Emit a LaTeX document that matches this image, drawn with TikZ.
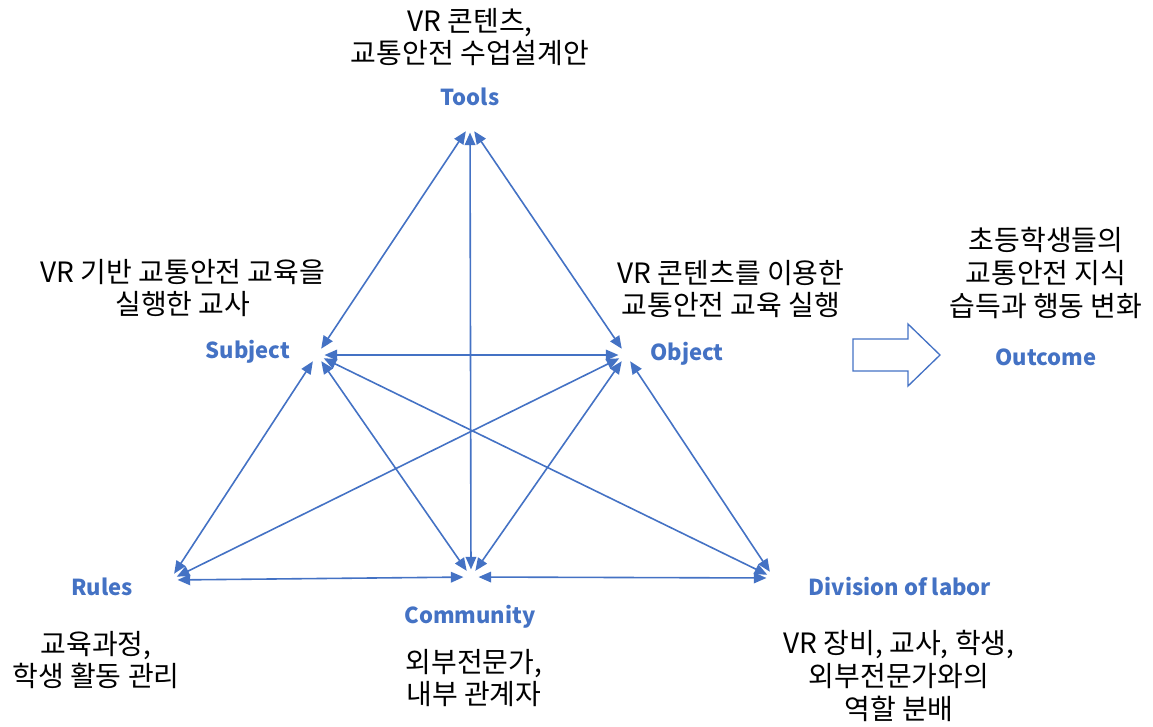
\documentclass[tikz,border=0pt]{standalone}
\usepackage{fontspec}
\setmainfont{Noto Sans CJK KR}
\usepackage{xcolor}
\usepackage{tikz}
\usetikzlibrary{arrows.meta, positioning}
\definecolor{actblue}{RGB}{68, 114, 196}

\begin{document}
\begin{tikzpicture}[x=0.75pt, y=-0.75pt, thick,
    vtx/.style={circle, inner sep=0pt, minimum size=10.5pt},
    link/.style={actblue, line width=1.2pt, {Triangle[length=9.5pt, width=8pt]}-{Triangle[length=9.5pt, width=8pt]}},
    lbl/.style={actblue, font=\fontsize{16.5}{22}\selectfont\bfseries},
    desc/.style={align=center, font=\fontsize{21}{24.5}\selectfont}]
    \useasboundingbox (0,0) rectangle (1153,726);

    % Triangle corners
    \node[vtx] (T) at (470,125) {};
    \node[vtx] (S) at (317,355) {};
    \node[vtx] (O) at (626,355) {};
    \node[vtx] (R) at (170,580) {};
    \node[vtx] (C) at (471,577) {};
    \node[vtx] (D) at (774,578) {};

    % Connectors
    \draw[link] (T) -- (S);
    \draw[link] (T) -- (O);
    \draw[link] (T) -- (C);
    \draw[link] (S) -- (O);
    \draw[link] (S) -- (R);
    \draw[link] (S) -- (C);
    \draw[link] (S) -- (D);
    \draw[link] (O) -- (R);
    \draw[link] (O) -- (C);
    \draw[link] (O) -- (D);
    \draw[link] (R) -- (C);
    \draw[link] (C) -- (D);

    % Labels
    \node[lbl] (tools) at (470,97) {Tools};
    \node[desc] (toolsdesc) at (470,37) {VR 콘텐츠,\\교통안전 수업설계안};

    \node[lbl] (subject) at (248,352) {Subject};
    \node[desc] (subjectdesc) at (183,288) {VR 기반 교통안전 교육을\\실행한 교사};

    \node[lbl] (object) at (687,354) {Object};
    \node[desc] (objectdesc) at (731,289) {VR 콘텐츠를 이용한\\교통안전 교육 실행};

    \node[lbl] (rules) at (102,587) {Rules};
    \node[desc] (rulesdesc) at (96,660) {교육과정,\\학생 활동 관리};

    \node[lbl] (community) at (470,617) {Community};
    \node[desc] (communitydesc) at (474,678) {외부전문가,\\내부 관계자};

    \node[lbl] (division) at (900,587) {Division of labor};
    \node[desc] (divisiondesc) at (899,676) {VR 장비, 교사, 학생,\\외부전문가와의\\역할 분배};

    % Outcome
    \draw[actblue, line width=1pt, line join=miter]
        (853,339) -- (908,339) -- (908,324) -- (940,355) -- (908,386) -- (908,371) -- (853,371) -- cycle;
    \node[lbl] (outcome) at (1046,357) {Outcome};
    \node[desc] (outcomedesc) at (1046,273) {초등학생들의\\교통안전 지식\\습득과 행동 변화};

\end{tikzpicture}
\end{document}
